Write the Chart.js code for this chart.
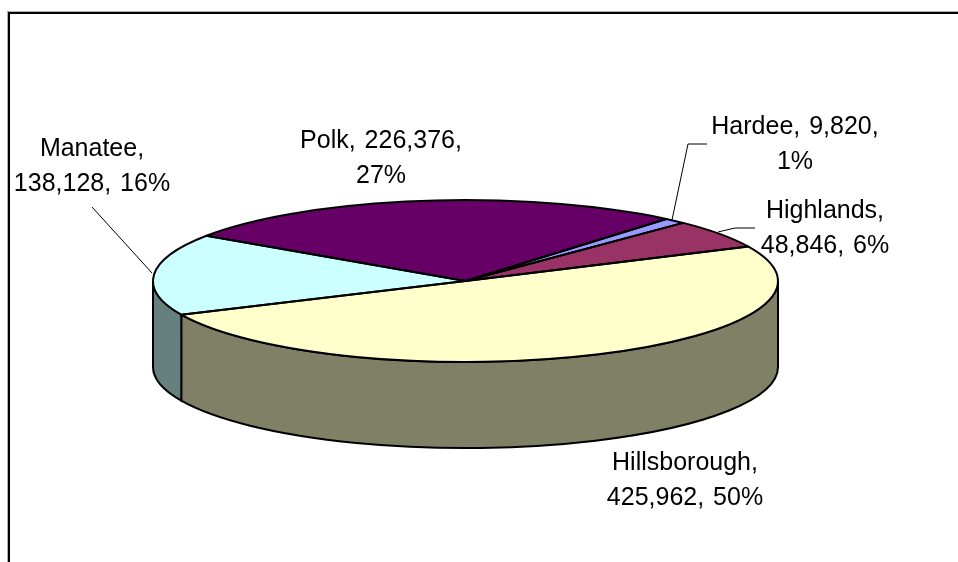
<!DOCTYPE html>
<html>
<head>
<meta charset="utf-8">
<style>
  html, body { margin: 0; padding: 0; background: #fff; }
  canvas { display: block; }
</style>
</head>
<body>
<canvas id="pie" width="958" height="562"></canvas>
<script src="https://cdn.jsdelivr.net/npm/chart.js@4/dist/chart.umd.min.js"></script>
<script>
const COUNTIES = ["Polk", "Hardee", "Highlands", "Hillsborough", "Manatee"];
const POPULATION = [226376, 9820, 48846, 425962, 138128];
const PERCENTS = [27, 1, 6, 50, 16];
const TOP_COLORS = ["#660066", "#9999FF", "#993366", "#FFFFCC", "#CCFFFF"];
const SIDE_COLORS = ["#330033", "#4D4D80", "#4D1A33", "#808066", "#668080"];

// Polk and Hardee break before the percent, the rest after the name
const LABEL_LINES = [
  (name, val, pct) => [`${name}, ${val},`, `${pct}%`],
  (name, val, pct) => [`${name}, ${val},`, `${pct}%`],
  (name, val, pct) => [`${name},`, `${val}, ${pct}%`],
  (name, val, pct) => [`${name},`, `${val}, ${pct}%`],
  (name, val, pct) => [`${name},`, `${val}, ${pct}%`],
];
// first line baseline of each label, centred on x
const LABEL_POS = [[381, 148], [795, 134], [825, 218], [685, 470], [92, 156]];
const LEADERS = [
  null,
  [[672, 220], [688, 144], [707, 144]],
  [[718, 232], [735, 228], [755, 228]],
  null,
  [[152, 273], [92, 207]],
];

const RX = 312.5;
const RY = 81;
const DEPTH = 86;
const LINE_GAP = 35;

const pie3d = {
  id: "pie3d",
  beforeDraw(chart) {
    // chart frame, only top and left edges show in the picture
    const ctx = chart.ctx;
    ctx.fillStyle = "#b0b0b0";
    ctx.fillRect(7, 11, 951, 1);
    ctx.fillRect(7, 11, 1, 551);
    ctx.fillStyle = "#000";
    ctx.fillRect(8, 12, 950, 2);
    ctx.fillRect(8, 12, 2, 550);
  },
  beforeDatasetsDraw(chart) {
    const ctx = chart.ctx;
    const arcs = chart.getDatasetMeta(0).data;
    ctx.save();
    ctx.lineWidth = 2;
    ctx.strokeStyle = "#000";
    arcs.forEach((arc, i) => {
      // only the front half of the rim is visible
      [0, 2 * Math.PI].forEach((base) => {
        const a0 = Math.max(arc.startAngle, base);
        const a1 = Math.min(arc.endAngle, base + Math.PI);
        if (a1 <= a0) return;
        ctx.beginPath();
        ctx.ellipse(arc.x, arc.y, RX, RY, 0, a0, a1);
        ctx.ellipse(arc.x, arc.y + DEPTH, RX, RY, 0, a1, a0, true);
        ctx.closePath();
        ctx.fillStyle = SIDE_COLORS[i];
        ctx.fill();
        ctx.stroke();
      });
    });
    ctx.restore();

    // squash the round pie into the top face
    const first = arcs[0];
    ctx.save();
    ctx.translate(first.x, first.y);
    ctx.scale(1, RY / RX);
    ctx.translate(-first.x, -first.y);
  },
  afterDatasetsDraw(chart) {
    const ctx = chart.ctx;
    ctx.restore();
    const arcs = chart.getDatasetMeta(0).data;
    ctx.save();
    ctx.lineWidth = 2;
    ctx.strokeStyle = "#000";
    ctx.lineJoin = "round";
    arcs.forEach((arc) => {
      ctx.beginPath();
      ctx.moveTo(arc.x, arc.y);
      ctx.ellipse(arc.x, arc.y, RX, RY, 0, arc.startAngle, arc.endAngle);
      ctx.closePath();
      ctx.stroke();
    });

    ctx.lineWidth = 1;
    LEADERS.forEach((pts) => {
      if (!pts) return;
      ctx.beginPath();
      pts.forEach(([x, y], j) => (j ? ctx.lineTo(x, y) : ctx.moveTo(x, y)));
      ctx.stroke();
    });

    ctx.fillStyle = "#000";
    ctx.font = '25px "Liberation Sans", Arial, sans-serif';
    ctx.wordSpacing = "2px";
    ctx.textAlign = "center";
    ctx.textBaseline = "alphabetic";
    COUNTIES.forEach((name, i) => {
      const val = POPULATION[i].toLocaleString("en-US");
      const [x, y] = LABEL_POS[i];
      LABEL_LINES[i](name, val, PERCENTS[i]).forEach((line, j) => {
        ctx.fillText(line, x, y + j * LINE_GAP);
      });
    });
    ctx.restore();
  },
};

new Chart(document.getElementById("pie"), {
  type: "pie",
  data: {
    labels: COUNTIES,
    datasets: [
      {
        data: POPULATION,
        backgroundColor: TOP_COLORS,
        borderWidth: 0,
      },
    ],
  },
  options: {
    responsive: false,
    animation: false,
    rotation: 304,
    radius: RX,
    layout: { padding: { right: 27 } },
    plugins: {
      legend: { display: false },
      tooltip: { enabled: false },
    },
  },
  plugins: [pie3d],
});
</script>
</body>
</html>
